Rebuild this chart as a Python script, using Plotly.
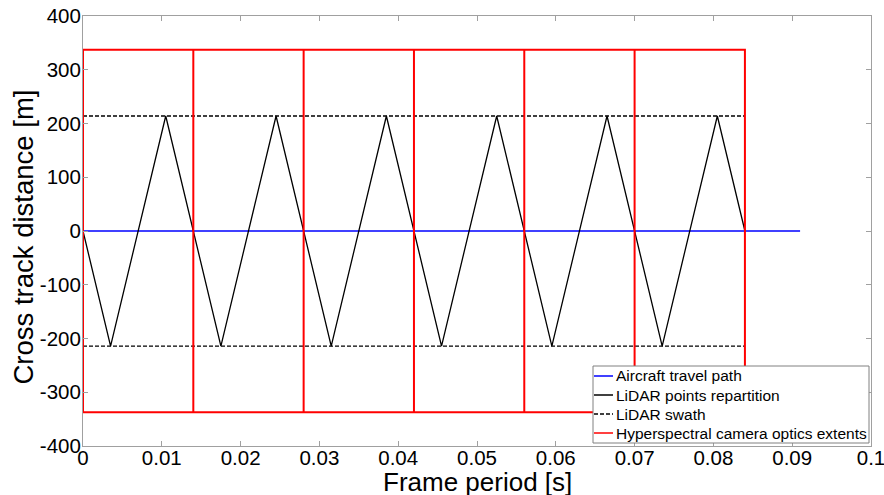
import plotly.graph_objects as go

# ---- data ----
travel_x = [0.0, 0.091]
travel_y = [0, 0]

lidar_x = [0.0, 0.0035, 0.0105, 0.0175, 0.0245, 0.0315, 0.0385, 0.0455,
           0.0525, 0.0595, 0.0665, 0.0735, 0.0805, 0.084]
lidar_y = [0, -214, 214, -214, 214, -214, 214, -214, 214, -214, 214, -214, 214, 0]

swath_x = [0.0, 0.084]
swath_y = 214

frame_edges = [0.0, 0.014, 0.028, 0.042, 0.056, 0.070, 0.084]
optics_y = 337

x_ticks = [0, 0.01, 0.02, 0.03, 0.04, 0.05, 0.06, 0.07, 0.08, 0.09, 0.1]
x_ticklabels = ["0", "0.01", "0.02", "0.03", "0.04", "0.05", "0.06", "0.07", "0.08", "0.09", "0.1"]
y_ticks = [400, 300, 200, 100, 0, -100, -200, -300, -400]
y_ticklabels = ["400", "300", "200", "100", "0", "-100", "-200", "-300", "-400"]

legend_names = ["Aircraft travel path", "LiDAR points repartition",
                "LiDAR swath", "Hyperspectral camera optics extents"]
legend_colors = ["#0000ff", "#000000", "#000000", "#ff0000"]
legend_dash = ["solid", "solid", "4px,2px", "solid"]

# build optics rectangle outline
ox, oy = [], []
ox += [frame_edges[0], frame_edges[-1], frame_edges[-1], frame_edges[0], frame_edges[0], None]
oy += [optics_y, optics_y, -optics_y, -optics_y, optics_y, None]
for e in frame_edges[1:-1]:
    ox += [e, e, None]
    oy += [optics_y, -optics_y, None]

FONT = "Arial, Liberation Sans, sans-serif"

W, H = 884, 495
PL, PR, PT, PB = 83, 871, 16, 446   # plot area in page pixels


def px(xp):
    return (xp - PL) / (PR - PL)


def py(yp):
    return (PB - yp) / (PB - PT)


fig = go.Figure()
fig.add_trace(go.Scatter(x=travel_x, y=travel_y, mode="lines",
                         line=dict(color=legend_colors[0], width=1.5),
                         name=legend_names[0]))
fig.add_trace(go.Scatter(x=lidar_x, y=lidar_y, mode="lines",
                         line=dict(color=legend_colors[1], width=1.3),
                         name=legend_names[1]))
fig.add_trace(go.Scatter(x=swath_x + [None] + swath_x,
                         y=[swath_y, swath_y, None, -swath_y, -swath_y], mode="lines",
                         line=dict(color=legend_colors[2], width=1.3, dash=legend_dash[2]),
                         name=legend_names[2]))
fig.add_trace(go.Scatter(x=ox, y=oy, mode="lines",
                         line=dict(color=legend_colors[3], width=2),
                         name=legend_names[3]))

# manual legend (MATLAB style)
box_l, box_r, box_t, box_b = 593, 869, 366, 443
row_y = [376, 395, 414, 433]
shapes = [dict(type="rect", xref="paper", yref="paper",
               x0=px(box_l), x1=px(box_r), y0=py(box_b), y1=py(box_t),
               fillcolor="white", line=dict(color="#808080", width=1), layer="above")]
annotations = []
for name, col, dsh, ry in zip(legend_names, legend_colors, legend_dash, row_y):
    shapes.append(dict(type="line", xref="paper", yref="paper",
                       x0=px(box_l + 1), x1=px(box_l + 20), y0=py(ry), y1=py(ry),
                       line=dict(color=col, width=1.5, dash=dsh), layer="above"))
    annotations.append(dict(text=name, xref="paper", yref="paper", x=px(box_l + 21), y=py(ry),
                            xanchor="left", yanchor="middle", showarrow=False,
                            font=dict(size=15.5, family=FONT, color="black")))

annotations += [
    dict(text="Frame period [s]", xref="paper", yref="paper", x=0.5, y=0,
         xanchor="center", yanchor="middle", yshift=-36, showarrow=False,
         font=dict(size=26, family=FONT, color="black")),
    dict(text="Cross track distance [m]", xref="paper", yref="paper", x=0, y=0.5,
         xanchor="center", yanchor="middle", xshift=-60.5, yshift=-6, textangle=-90,
         showarrow=False, font=dict(size=27.5, family=FONT, color="black")),
]

fig.update_layout(
    width=W, height=H,
    margin=dict(l=PL, r=W - PR, t=PT, b=H - PB, autoexpand=False),
    paper_bgcolor="white", plot_bgcolor="white",
    font=dict(family=FONT, color="black"),
    showlegend=False,
    shapes=shapes,
    annotations=annotations,
)
fig.update_xaxes(range=[0, 0.1000001], tickvals=x_ticks, ticktext=x_ticklabels,
                 ticks="inside", ticklen=5, tickcolor="#a0a0a0",
                 showline=True, linecolor="#a0a0a0", linewidth=1, mirror="ticks",
                 showgrid=False, zeroline=False, automargin=False,
                 tickfont=dict(size=20.5), ticklabelstandoff=-7,
                 ticklabeloverflow="allow")
fig.update_yaxes(range=[-400, 400], tickvals=y_ticks, ticktext=y_ticklabels,
                 ticks="inside", ticklen=5, tickcolor="#a0a0a0",
                 showline=True, linecolor="#a0a0a0", linewidth=1, mirror="ticks",
                 showgrid=False, zeroline=False, automargin=False,
                 tickfont=dict(size=20.5), ticklabelstandoff=-3,
                 ticklabeloverflow="allow")

fig.write_html("out.html", config={"displayModeBar": False},
               post_script="document.body.style.margin='0px';document.body.style.overflow='hidden';")
